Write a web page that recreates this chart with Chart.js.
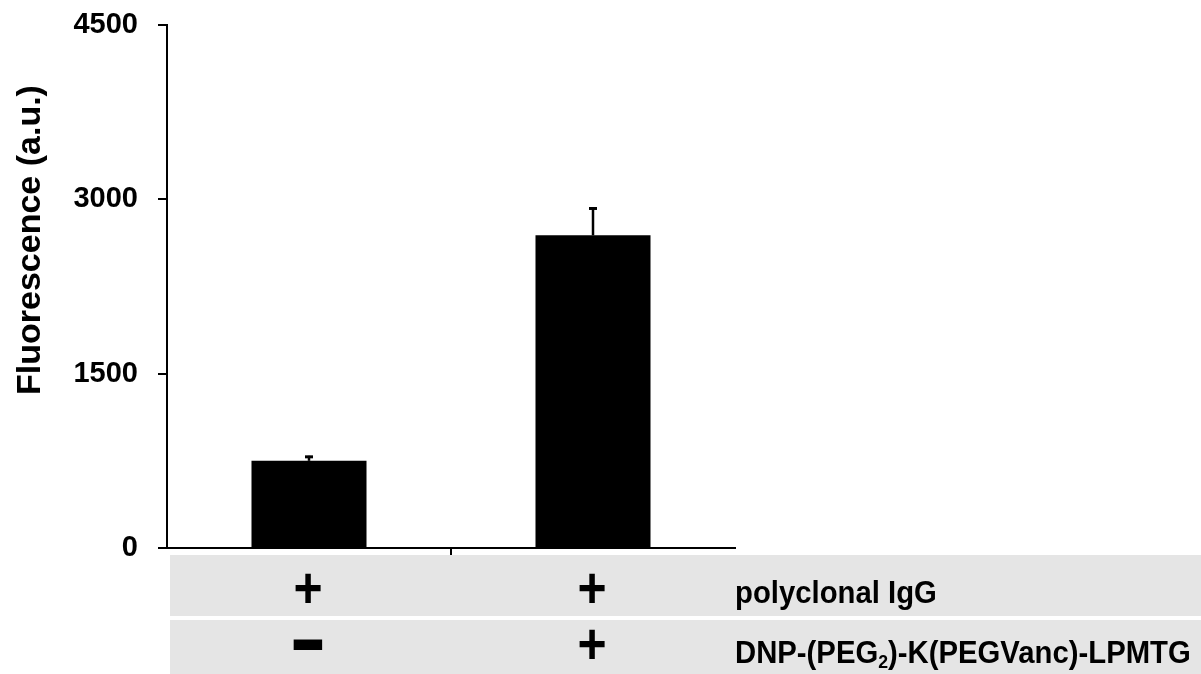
<!DOCTYPE html>
<html>
<head>
<meta charset="utf-8">
<script src="https://cdn.jsdelivr.net/npm/chart.js@4"></script>
<style>
  body { margin: 0; background: #fff; }
  canvas { display: block; }
</style>
</head>
<body>
<canvas id="myChart" width="1201" height="674"></canvas>
<script>
// data
const groups = ['IgG', 'IgG + DNP-linker'];
const fluorescence = [750, 2690];
const errors = [43, 240];
const yTicks = [0, 1500, 3000, 4500];
const rowNames = ['polyclonal IgG', 'DNP-(PEG2)-K(PEGVanc)-LPMTG'];
const iggSigns = ['+', '+'];
const dnpSigns = ['\u2212', '+'];

const FONT = '"Liberation Sans", Arial, sans-serif';

// error bars, upward only
const errorBars = {
    id: 'errorBars',
    afterDatasetsDraw(chart) {
        const ctx = chart.ctx;
        const y = chart.scales.y;
        const meta = chart.getDatasetMeta(0);
        ctx.save();
        ctx.strokeStyle = '#000';
        meta.data.forEach((bar, i) => {
            const top = y.getPixelForValue(fluorescence[i] + errors[i]);
            ctx.lineWidth = 2.5;
            ctx.beginPath();
            ctx.moveTo(bar.x, bar.y);
            ctx.lineTo(bar.x, top);
            ctx.stroke();
            ctx.lineWidth = 3;
            ctx.beginPath();
            ctx.moveTo(bar.x - 4, top + 1);
            ctx.lineTo(bar.x + 4, top + 1);
            ctx.stroke();
        });
        ctx.restore();
    }
};

// y title + the +/- table under the axis
const extras = {
    id: 'extras',
    afterDraw(chart) {
        const ctx = chart.ctx;
        const x = chart.scales.x;
        ctx.save();

        ctx.fillStyle = '#000';
        ctx.font = 'bold 34px ' + FONT;
        ctx.textAlign = 'center';
        ctx.textBaseline = 'middle';
        ctx.translate(31, 240);
        ctx.rotate(-Math.PI / 2);
        ctx.fillText('Fluorescence (a.u.)', 0, 0);
        ctx.restore();

        ctx.save();
        ctx.fillStyle = '#e5e5e5';
        ctx.fillRect(170, 555, 1031, 61);
        ctx.fillRect(170, 620, 1031, 54);

        ctx.fillStyle = '#000';
        ctx.strokeStyle = '#000';
        const rows = [iggSigns, dnpSigns];
        const baselines = [608, 664];
        rows.forEach((signs, r) => {
            signs.forEach((s, i) => {
                const cx = x.getPixelForValue(i) - 1;
                ctx.save();
                ctx.translate(cx, baselines[r]);
                ctx.scale(0.86, 1);
                ctx.font = 'bold 58px ' + FONT;
                ctx.textAlign = 'center';
                ctx.textBaseline = 'alphabetic';
                ctx.fillText(s, 0, 0);
                if (s !== '+') {
                    ctx.lineWidth = 4;
                    ctx.strokeText(s, 0, 0);
                }
                ctx.restore();
            });
        });

        // row labels, slightly condensed like the original
        const drawLabel = (r, baseline) => {
            ctx.save();
            ctx.translate(735, baseline);
            ctx.scale(0.93, 1);
            ctx.textAlign = 'left';
            ctx.textBaseline = 'alphabetic';
            const parts = rowNames[r].split('2');
            let tx = 0;
            parts.forEach((p, k) => {
                ctx.font = 'bold 31.5px ' + FONT;
                ctx.fillText(p, tx, 0);
                tx += ctx.measureText(p).width;
                if (k < parts.length - 1) {
                    ctx.font = 'bold 19px ' + FONT;
                    ctx.fillText('2', tx, 5);
                    tx += ctx.measureText('2').width;
                }
            });
            ctx.restore();
        };
        drawLabel(0, 603);
        drawLabel(1, 663);
        ctx.restore();
    }
};

const myChartRef = document.getElementById('myChart').getContext('2d');

new Chart(myChartRef, {
    type: 'bar',
    data: {
        labels: groups,
        datasets: [
            {
                data: fluorescence,
                backgroundColor: '#000',
                borderWidth: 0,
                categoryPercentage: 1,
                barPercentage: 0.405
            }
        ]
    },
    options: {
        responsive: false,
        animation: false,
        layout: {
            padding: { top: 25, right: 466, left: 0, bottom: 0 }
        },
        scales: {
            x: {
                afterFit: (s) => { s.height = 126; s.paddingLeft = 0; s.paddingRight = 0; },
                ticks: { display: false },
                grid: {
                    offset: true,
                    drawOnChartArea: false,
                    tickLength: 8,
                    lineWidth: 2,
                    color: (c) => c.index === 1 ? '#000' : 'rgba(0,0,0,0)'
                },
                border: { display: true, color: '#000', width: 2 }
            },
            y: {
                min: 0,
                max: 4500,
                afterFit: (s) => { s.width = 167; s.paddingTop = 0; s.paddingBottom = 0; },
                afterBuildTicks: (s) => { s.ticks = yTicks.map(v => ({ value: v })); },
                ticks: {
                    color: '#000',
                    padding: 20,
                    font: { family: FONT, size: 29, weight: 'bold' },
                    callback: (v) => String(v)
                },
                grid: {
                    drawOnChartArea: false,
                    tickLength: 9,
                    lineWidth: 2,
                    color: '#000'
                },
                border: { display: true, color: '#000', width: 2 }
            }
        },
        plugins: {
            legend: { display: false },
            tooltip: { enabled: false }
        }
    },
    plugins: [errorBars, extras]
});
</script>
</body>
</html>
